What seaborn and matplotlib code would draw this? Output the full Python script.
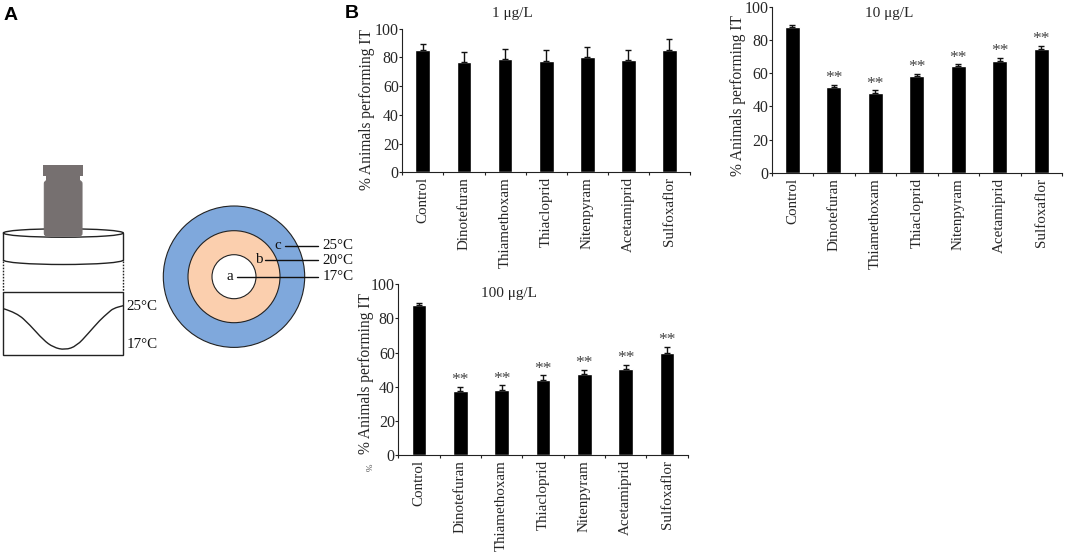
import numpy as np
import pandas as pd
import matplotlib
matplotlib.use("Agg")
import matplotlib.pyplot as plt
from matplotlib.patches import Circle, Ellipse, Rectangle, FancyBboxPatch, Arc, PathPatch
from matplotlib.path import Path
import seaborn as sns

W, H = 1065, 557

compounds = ["Control", "Dinotefuran", "Thiamethoxam", "Thiacloprid",
             "Nitenpyram", "Acetamiprid", "Sulfoxaflor"]

# bar heights and top of error bar for each dose
mean_1 = [85.0, 76.6, 78.7, 77.3, 80.1, 78.0, 85.0]
top_1 = [89.0, 83.5, 85.6, 85.0, 87.0, 85.0, 92.8]
mean_10 = [87.8, 51.5, 48.1, 58.3, 64.5, 67.3, 74.5]
top_10 = [89.2, 52.9, 49.7, 59.7, 65.3, 69.3, 76.5]
mean_100 = [87.7, 37.2, 38.2, 44.1, 47.6, 50.3, 59.5]
top_100 = [88.9, 39.8, 40.8, 46.7, 49.8, 52.9, 63.5]
sig_10 = ["", "**", "**", "**", "**", "**", "**"]
sig_100 = ["", "**", "**", "**", "**", "**", "**"]
y_ticks = [0, 20, 40, 60, 80, 100]

sns.set_theme(style="ticks")
plt.rcParams["font.family"] = ["Liberation Serif", "DejaVu Serif"]

fig = plt.figure(figsize=(W / 100, H / 100), dpi=100, facecolor="white")


def axes_px(left, top, right, bottom):
    return fig.add_axes([left / W, 1 - bottom / H, (right - left) / W, (bottom - top) / H])


def bar_panel(box, means, tops, sig, title, title_xy, label_xy):
    left, top, right, bottom = box
    ax = axes_px(left, top, right, bottom)
    df = pd.DataFrame({"compound": compounds, "mean": means, "top": tops})
    sns.barplot(data=df, x="compound", y="mean", color="black", saturation=1,
                width=0.36, errorbar=None, ax=ax)
    ax.errorbar(np.arange(len(compounds)), df["mean"],
                yerr=[np.zeros(len(df)), df["top"] - df["mean"]],
                fmt="none", ecolor="#111111", elinewidth=1.0, capsize=1.9, capthick=1.0)
    ax.set_xlim(-0.5, 6.5)
    ax.set_ylim(0, 100)
    ax.set_yticks(y_ticks)
    ax.tick_params(axis="y", length=2, width=0.8, pad=0.5, labelsize=11.4, color="#222222")
    ax.set_xticks(np.arange(len(compounds)))
    ax.set_xticklabels(compounds, rotation=90, fontsize=10.8)
    ax.tick_params(axis="x", which="major", length=0, pad=3.5)
    ax.set_xticks(np.arange(-0.5, 7), minor=True)
    ax.tick_params(axis="x", which="minor", length=2, width=0.8, color="#222222")
    ax.set_xlabel("")
    ax.set_ylabel("% Animals performing IT", fontsize=11.2)
    ax.yaxis.set_label_coords((label_xy[0] - left) / (right - left),
                              (bottom - label_xy[1]) / (bottom - top))
    sns.despine(ax=ax)
    for s in ["left", "bottom"]:
        ax.spines[s].set_linewidth(0.8)
        ax.spines[s].set_color("#222222")
    for i, mark in enumerate(sig):
        if mark:
            ax.text(i, tops[i] - 0.8, mark, ha="center", va="bottom", fontsize=12.5, color="#444444")
    fig.text(title_xy[0] / W, 1 - title_xy[1] / H, title, ha="center", va="center", fontsize=11)
    return ax


# panel A drawn in pixel coordinates
sk = fig.add_axes([0, 0, 1, 1])
sk.set_xlim(0, W)
sk.set_ylim(H, 0)
sk.axis("off")


def zx(v):
    return v / 3


def zy(v):
    return 140 + v / 3


line = "#222222"
# weight
sk.add_patch(FancyBboxPatch((zx(133), zy(122)), zx(113), 55.5, boxstyle="round,pad=0,rounding_size=3",
                            fc="#767070", ec="#767070", lw=0.8, zorder=3))
sk.add_patch(Rectangle((zx(130), zy(74)), zx(118), 11, fc="#767070", ec="none", zorder=3))
sk.add_patch(Rectangle((zx(137), zy(100)), zx(104), 9, fc="#767070", ec="none", zorder=3))
# cylinder
sk.add_patch(Ellipse((zx(190), zy(279)), zx(360), 8.5, fc="white", ec=line, lw=1, zorder=2))
sk.plot([zx(10), zx(10)], [zy(279), zy(360)], color=line, lw=1)
sk.plot([zx(370), zx(370)], [zy(279), zy(360)], color=line, lw=1)
sk.add_patch(Arc((zx(190), zy(360)), zx(360), 9, theta1=0, theta2=180, ec=line, lw=1))
sk.plot([zx(10), zx(10)], [zy(362), zy(456)], color=line, lw=1, ls=(0, (1.2, 1.0)))
sk.plot([zx(370), zx(370)], [zy(362), zy(456)], color=line, lw=1, ls=(0, (1.2, 1.0)))
# section with temperature curve
sk.add_patch(Rectangle((zx(10), zy(457)), zx(360), 62.7, fc="white", ec=line, lw=1))
verts = [(10, 506), (50, 518), (90, 555), (130, 600), (160, 622), (195, 630),
         (230, 618), (265, 580), (300, 540), (325, 518), (340, 505), (370, 497)]
pts = [(zx(v[0]), zy(v[1])) for v in verts]
path_v = [pts[0]]
path_c = [Path.MOVETO]
for a, b in zip(pts[1:-1], pts[2:]):
    path_v += [a, ((a[0] + b[0]) / 2, (a[1] + b[1]) / 2)]
    path_c += [Path.CURVE3, Path.CURVE3]
path_v.append(pts[-1])
path_c.append(Path.LINETO)
sk.add_patch(PathPatch(Path(path_v, path_c), fc="none", ec=line, lw=1, zorder=4))
sk.text(126, zy(500), "25°C", fontsize=10.8, va="center", color="#111111")
sk.text(127, zy(615), "17°C", fontsize=10.8, va="center", color="#111111")
# rings
c0 = (234, 276.7)
sk.add_patch(Circle(c0, 70.7, fc="#7fa8dc", ec=line, lw=0.8))
sk.add_patch(Circle(c0, 46, fc="#fbcfae", ec=line, lw=0.8))
sk.add_patch(Circle(c0, 22, fc="white", ec=line, lw=0.8))
for x0, yv, letter, lx, temp in [(855, 317, "c", 833, "25°C"), (795, 361, "b", 780, "20°C"),
                                 (710, 410, "a", 690, "17°C")]:
    sk.plot([zx(x0), zx(955)], [zy(yv), zy(yv)], color="#111111", lw=1)
    sk.text(zx(lx), zy(yv) - 0.5, letter, fontsize=10.8, ha="center", va="center", color="#111111")
    sk.text(322.5, zy(yv), temp, fontsize=10.8, va="center", color="#111111")
sk.text(4, 15, "A", fontsize=14, fontweight="bold", family="Liberation Sans", va="center", color="black")
sk.text(345, 14, "B", fontsize=14, fontweight="bold", family="Liberation Sans", va="center", color="black")
sk.text(371, 467, "%", fontsize=6.5, rotation=90, ha="center", va="center", color="#444444")

bar_panel((402.3, 28.7, 690, 172.3), mean_1, top_1, [""] * 7, "1 μg/L", (512.7, 13), (375, 109))
bar_panel((771.7, 6.7, 1062, 173), mean_10, top_10, sig_10, "10 μg/L", (889, 13), (746, 96))
bar_panel((398.3, 284.3, 687.7, 455), mean_100, top_100, sig_100, "100 μg/L", (509, 293), (374, 374))

fig.savefig("out.png", dpi=100)
